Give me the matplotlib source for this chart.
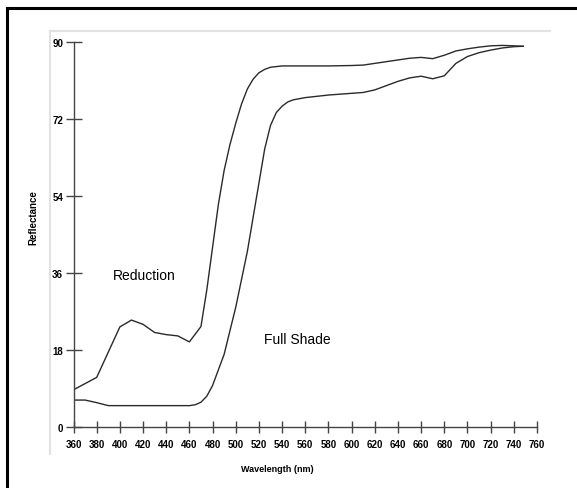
import matplotlib
matplotlib.use("Agg")
import matplotlib.pyplot as plt
from matplotlib.lines import Line2D

# wavelength (nm) and reflectance for each curve
reduction_wl = [360, 380, 400, 410, 420, 430, 440, 450, 460, 470, 475, 480, 485, 490,
                495, 500, 505, 510, 515, 520, 525, 530, 540, 560, 580, 600, 610, 620,
                630, 640, 650, 660, 670, 680, 690, 700, 710, 720, 730, 740, 748]
reduction_r = [8.7, 11.6, 23.4, 25.0, 24.0, 22.1, 21.6, 21.3, 19.9, 23.5, 32, 42, 52, 60,
               66, 71, 75.5, 79, 81.3, 82.8, 83.6, 84.1, 84.4, 84.4, 84.4, 84.5, 84.6, 85.0,
               85.4, 85.8, 86.2, 86.4, 86.1, 86.9, 87.9, 88.4, 88.8, 89.1, 89.2, 89.1, 89.0]

shade_wl = [360, 370, 380, 390, 400, 410, 420, 430, 440, 450, 460, 465, 470, 475, 480,
            490, 500, 510, 520, 525, 530, 535, 540, 545, 550, 560, 580, 600, 610, 620,
            630, 640, 650, 660, 670, 680, 690, 700, 710, 720, 730, 740, 748]
shade_r = [6.3, 6.3, 5.7, 5.0, 5.0, 5.0, 5.0, 5.0, 5.0, 5.0, 5.0, 5.2, 5.8, 7.2, 9.7,
           17, 28, 41, 57, 65, 70.5, 73.5, 75, 76, 76.5, 77, 77.6, 78.0, 78.2, 78.8,
           79.8, 80.8, 81.6, 82.0, 81.4, 82.1, 85.0, 86.6, 87.5, 88.1, 88.6, 88.9, 89.0]

x_ticks = list(range(360, 761, 20))
y_ticks = [0, 18, 36, 54, 72, 90]

fig = plt.figure(figsize=(5.77, 4.89), dpi=100)
ax = fig.add_axes([0.1274, 0.1247, 0.8033, 0.7874])

ax.plot(reduction_wl, reduction_r, color="#2a2a2a", lw=1.0)
ax.plot(shade_wl, shade_r, color="#2a2a2a", lw=1.0)

ax.set_xlim(360, 760)
ax.set_ylim(0, 90)
ax.set_xticks(x_ticks)
ax.set_yticks(y_ticks)

for s in ["top", "right"]:
    ax.spines[s].set_visible(False)
for s in ["left", "bottom"]:
    ax.spines[s].set_color("#444444")
    ax.spines[s].set_linewidth(1.0)

ax.tick_params(axis="y", direction="inout", length=12, width=1.0, color="#444444", pad=1.5)
ax.tick_params(axis="x", direction="inout", length=9, width=1.0, color="#444444", pad=4)
for lab in ax.get_xticklabels() + ax.get_yticklabels():
    lab.set_fontfamily("Liberation Sans")
    lab.set_fontweight("bold")
    lab.set_fontsize(7)

ax.text(421, 35.5, "Reduction", fontsize=10, family="Liberation Sans", ha="center", va="center")
ax.text(553, 20.6, "Full Shade", fontsize=10, family="Liberation Sans", ha="center", va="center")

fig.text(33 / 577, 1 - 218 / 489, "Reflectance", rotation=90, fontsize=7, fontweight="bold",
         family="Liberation Sans", ha="center", va="center")
fig.text(277 / 577, 1 - 470 / 489, "Wavelength (nm)", fontsize=6.5, fontweight="bold",
         family="Liberation Sans", ha="center", va="center")

# outer frames
fig.add_artist(Line2D([7 / 577, 7 / 577], [0, 1 - 9 / 489], color="black", lw=2.2))
fig.add_artist(Line2D([7 / 577, 1], [1 - 9 / 489, 1 - 9 / 489], color="black", lw=2.2))
fig.add_artist(Line2D([50 / 577, 50 / 577], [1 - 455 / 489, 1 - 32 / 489], color="#e2e2e2", lw=1.5))
fig.add_artist(Line2D([50 / 577, 550 / 577], [1 - 32 / 489, 1 - 32 / 489], color="#e2e2e2", lw=1.5))

fig.savefig("out.png", dpi=100)
